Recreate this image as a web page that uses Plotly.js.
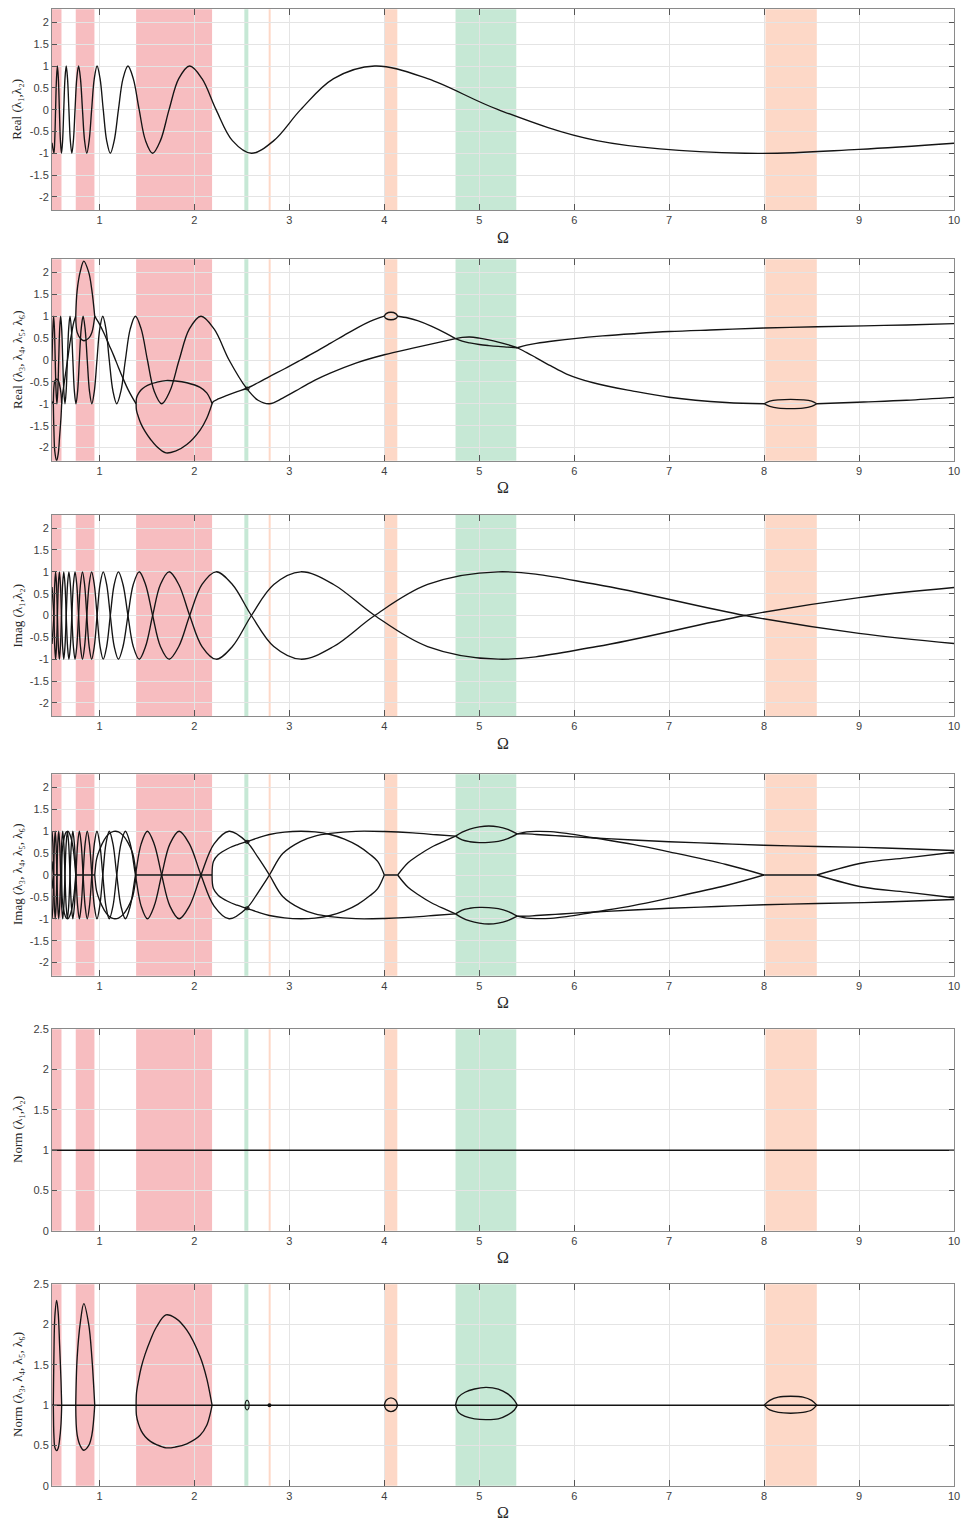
<!DOCTYPE html>
<html>
<head>
<meta charset="utf-8">
<script src="https://cdn.plot.ly/plotly-3.0.1.min.js"></script>
<style>
html,body{margin:0;padding:0;background:#fff;}
#chart{width:963px;height:1523px;}
</style>
</head>
<body>
<div id="chart"></div>
<script>
// ---------- λ1, λ2 (always on the unit circle) ----------
const omega12 = [0.5, 0.5199, 0.5287, 0.5378, 0.5473, 0.557, 0.5672, 0.5777, 0.5886, 0.5999, 0.6117, 0.6239, 0.6366, 0.6499, 0.6637, 0.6781, 0.6932, 0.709, 0.7254, 0.7427, 0.7608, 0.7799, 0.7998, 0.8209, 0.8431, 0.8665, 0.8913, 0.9175, 0.9453, 0.9748, 1.0063, 1.0398, 1.0756, 1.1141, 1.1553, 1.1998, 1.2478, 1.3, 1.356, 1.418, 1.485, 1.56, 1.642, 1.733, 1.835, 1.95, 2.08, 2.228, 2.4, 2.6, 2.836, 3.119, 3.466, 3.899, 4.456, 5.199, 6.239, 7.8, 9.0, 10];
const realL12 = [-0.76,
  -1, -0.71, 0, 0.71, 1, 0.71, 0, -0.71,
  -1, -0.71, 0, 0.71, 1, 0.71, 0, -0.71,
  -1, -0.71, 0, 0.71, 1, 0.71, 0, -0.71,
  -1, -0.71, 0, 0.71, 1, 0.71, 0, -0.71,
  -1, -0.71, 0, 0.71, 1, 0.71, 0, -0.71,
  -1, -0.71, 0, 0.71, 1, 0.71, 0, -0.71,
  -1, -0.71, 0, 0.71, 1, 0.71, 0, -0.71,
  -1, -0.91, -0.77];
const imagL1 = [-0.65,
  0, 0.71, 1, 0.71, 0, -0.71, -1, -0.71,
  0, 0.71, 1, 0.71, 0, -0.71, -1, -0.71,
  0, 0.71, 1, 0.71, 0, -0.71, -1, -0.71,
  0, 0.71, 1, 0.71, 0, -0.71, -1, -0.71,
  0, 0.71, 1, 0.71, 0, -0.71, -1, -0.71,
  0, 0.71, 1, 0.71, 0, -0.71, -1, -0.71,
  0, 0.71, 1, 0.71, 0, -0.71, -1, -0.71,
  0, 0.41, 0.64];
const imagL2 = [0.65,
  0, -0.71, -1, -0.71, 0, 0.71, 1, 0.71,
  0, -0.71, -1, -0.71, 0, 0.71, 1, 0.71,
  0, -0.71, -1, -0.71, 0, 0.71, 1, 0.71,
  0, -0.71, -1, -0.71, 0, 0.71, 1, 0.71,
  0, -0.71, -1, -0.71, 0, 0.71, 1, 0.71,
  0, -0.71, -1, -0.71, 0, 0.71, 1, 0.71,
  0, -0.71, -1, -0.71, 0, 0.71, 1, 0.71,
  0, -0.41, -0.64];
const omegaUnit = [0.5, 10];
const normUnit = [1, 1];

// ---------- λ3..λ6 : fast pair ----------
const omegaFast = [0.5, 0.5093, 0.5173, 0.5255, 0.5339, 0.5427, 0.5517, 0.5611, 0.5708, 0.5808, 0.5911, 0.6019, 0.613, 0.6246, 0.6366, 0.6491, 0.6621, 0.6756, 0.6897, 0.7043, 0.7197, 0.7356, 0.7524, 0.7699, 0.7882, 0.8074, 0.8276, 0.8488, 0.8712, 0.8947, 0.9196, 0.9458, 0.9736, 1.003, 1.035, 1.068, 1.103, 1.142, 1.182, 1.226, 1.273, 1.324, 1.379, 1.439, 1.505, 1.576, 1.655, 1.742, 1.839, 1.947, 2.069, 2.207, 2.365, 2.55, 2.67, 2.79, 2.93, 3.12, 3.27, 3.43, 3.7, 4.0, 4.3, 4.55, 4.75];
const realFast = [
  0, 0.71, 1, 0.71, 0, -0.71, -1, -0.71,
  0, 0.71, 1, 0.71, 0, -0.71, -1, -0.71,
  0, 0.71, 1, 0.71, 0, -0.71, -1, -0.71,
  0, 0.71, 1, 0.71, 0, -0.71, -1, -0.71,
  0, 0.71, 1, 0.71, 0, -0.71, -1, -0.71,
  0, 0.71, 1, 0.71, 0, -0.71, -1, -0.71,
  0, 0.71, 1, 0.71, 0,
  -0.65, -0.92, -1, -0.87, -0.64, -0.46, -0.3, -0.07, 0.12, 0.27, 0.39, 0.49];
const imagFastPos = [
  1, 0.71, 0, -0.71, -1, -0.71, 0, 0.71,
  1, 0.71, 0, -0.71, -1, -0.71, 0, 0.71,
  1, 0.71, 0, -0.71, -1, -0.71, 0, 0.71,
  1, 0.71, 0, -0.71, -1, -0.71, 0, 0.71,
  1, 0.71, 0, -0.71, -1, -0.71, 0, 0.71,
  1, 0.71, 0, -0.71, -1, -0.71, 0, 0.71,
  1, 0.71, 0, -0.71, -1,
  -0.76, -0.4, 0, 0.49, 0.77, 0.89, 0.95, 0.998, 0.993, 0.963, 0.92, 0.887];
const imagFastNeg = [
  -1, -0.71, 0, 0.71, 1, 0.71, 0, -0.71,
  -1, -0.71, 0, 0.71, 1, 0.71, 0, -0.71,
  -1, -0.71, 0, 0.71, 1, 0.71, 0, -0.71,
  -1, -0.71, 0, 0.71, 1, 0.71, 0, -0.71,
  -1, -0.71, 0, 0.71, 1, 0.71, 0, -0.71,
  -1, -0.71, 0, 0.71, 1, 0.71, 0, -0.71,
  -1, -0.71, 0, 0.71, 1,
  0.76, 0.4, 0, -0.49, -0.77, -0.89, -0.95, -0.998, -0.993, -0.963, -0.92, -0.887];

// complex quadruplet between 4.75 and 5.4
const omegaKrein = [4.75, 4.82, 4.9, 5.0, 5.1, 5.2, 5.3, 5.4];
const realKreinFast = [0.49, 0.43, 0.39, 0.355, 0.33, 0.31, 0.295, 0.28];
const realKreinSlow = [0.49, 0.515, 0.525, 0.5, 0.46, 0.41, 0.35, 0.28];
const imagKreinFastPos = [0.887, 0.8, 0.76, 0.74, 0.745, 0.77, 0.83, 0.94];
const imagKreinFastNeg = [-0.887, -0.8, -0.76, -0.74, -0.745, -0.77, -0.83, -0.94];
const imagKreinSlowPos = [0.887, 0.98, 1.05, 1.1, 1.12, 1.1, 1.04, 0.94];
const imagKreinSlowNeg = [-0.887, -0.98, -1.05, -1.1, -1.12, -1.1, -1.04, -0.94];
const omegaKreinNorm = [4.75, 4.78, 4.85, 4.95, 5.07, 5.2, 5.3, 5.37, 5.4];
const normKreinHi = [1, 1.1, 1.16, 1.2, 1.22, 1.2, 1.14, 1.06, 1];
const normKreinLo = [1, 0.91, 0.86, 0.83, 0.82, 0.83, 0.88, 0.94, 1];

const omegaTail = [5.4, 5.5, 5.6, 5.8, 6.0, 6.3, 6.62, 7.0, 7.5, 8.0, 8.56, 9.05, 9.5, 10];
const realTail = [0.28, 0.34, 0.38, 0.44, 0.49, 0.55, 0.6, 0.65, 0.69, 0.73, 0.76, 0.78, 0.8, 0.83];
const imagTailPos = [0.94, 0.94, 0.925, 0.9, 0.87, 0.835, 0.8, 0.76, 0.72, 0.68, 0.65, 0.63, 0.6, 0.56];
const imagTailNeg = [-0.94, -0.94, -0.925, -0.9, -0.87, -0.835, -0.8, -0.76, -0.72, -0.68, -0.65, -0.63, -0.6, -0.56];

// ---------- λ3..λ6 : slow pair, piece by piece ----------
const omegaSlowA = [0.5, 0.514];
const realSlowA = [-0.95, -1];
const imagSlowAPos = [0.31, 0];
const imagSlowANeg = [-0.31, 0];

const omegaLoop1 = [0.514, 0.517, 0.52, 0.53, 0.549, 0.565, 0.58, 0.595, 0.602];
const normLoop1Hi = [1, 1.35, 1.6, 2.1, 2.3, 2.15, 1.75, 1.3, 1];
const normLoop1Lo = [1, 0.74, 0.625, 0.476, 0.435, 0.465, 0.571, 0.77, 1];
const realLoop1Hi = [-1, -0.74, -0.625, -0.476, -0.435, -0.465, -0.571, -0.77, -1];
const realLoop1Lo = [-1, -1.35, -1.6, -2.1, -2.3, -2.15, -1.75, -1.3, -1];

const omegaSlowB = [0.602, 0.61, 0.63, 0.65, 0.67, 0.69, 0.71, 0.73, 0.75];
const realSlowB = [-1, -0.8, -0.5, -0.2, 0.1, 0.4, 0.65, 0.87, 1];
const imagSlowBPos = [0, 0.6, 0.87, 0.98, 0.995, 0.92, 0.76, 0.49, 0];
const imagSlowBNeg = [0, -0.6, -0.87, -0.98, -0.995, -0.92, -0.76, -0.49, 0];

const omegaLoop2 = [0.75, 0.765, 0.8, 0.835, 0.887, 0.92, 0.95];
const valueLoop2Hi = [1, 1.59, 2.04, 2.26, 2.0, 1.59, 1];
const valueLoop2Lo = [1, 0.63, 0.49, 0.44, 0.5, 0.63, 1];

const omegaSlowC = [0.95, 0.97, 1.0, 1.05, 1.1, 1.15, 1.2, 1.25, 1.3, 1.35, 1.386];
const realSlowC = [1, 0.93, 0.82, 0.6, 0.35, 0.1, -0.17, -0.43, -0.67, -0.87, -1];
const imagSlowCPos = [0, 0.37, 0.57, 0.8, 0.94, 0.995, 0.985, 0.9, 0.74, 0.49, 0];
const imagSlowCNeg = [0, -0.37, -0.57, -0.8, -0.94, -0.995, -0.985, -0.9, -0.74, -0.49, 0];

const omegaLoop3 = [1.386, 1.39, 1.41, 1.44, 1.48, 1.537, 1.6, 1.7, 1.8, 1.92, 2.06, 2.13, 2.17, 2.186];
const normLoop3Hi = [1, 1.15, 1.3, 1.47, 1.63, 1.81, 1.97, 2.12, 2.08, 1.93, 1.6, 1.33, 1.1, 1];
const normLoop3Lo = [1, 0.87, 0.77, 0.68, 0.61, 0.55, 0.51, 0.47, 0.48, 0.52, 0.625, 0.75, 0.91, 1];
const realLoop3Hi = [-1, -0.87, -0.77, -0.68, -0.61, -0.55, -0.51, -0.47, -0.48, -0.52, -0.625, -0.75, -0.91, -1];
const realLoop3Lo = [-1, -1.15, -1.3, -1.47, -1.63, -1.81, -1.97, -2.12, -2.08, -1.93, -1.6, -1.33, -1.1, -1];

const omegaSlowD = [2.186, 2.2, 2.25, 2.35, 2.45, 2.55, 2.67, 2.79, 2.95, 3.12, 3.27, 3.43, 3.58, 3.72, 3.85, 3.93, 4.0];
const realSlowD = [-1, -0.95, -0.89, -0.8, -0.72, -0.65, -0.52, -0.38, -0.2, 0.0, 0.18, 0.38, 0.57, 0.74, 0.88, 0.95, 1];
const imagSlowDPos = [0, 0.31, 0.46, 0.6, 0.69, 0.76, 0.85, 0.925, 0.98, 1.0, 0.984, 0.925, 0.82, 0.67, 0.47, 0.31, 0];
const imagSlowDNeg = [0, -0.31, -0.46, -0.6, -0.69, -0.76, -0.85, -0.925, -0.98, -1.0, -0.984, -0.925, -0.82, -0.67, -0.47, -0.31, 0];

const omegaBubble4 = [4.0, 4.02, 4.07, 4.12, 4.14];
const valueBubble4Hi = [1, 1.06, 1.09, 1.06, 1];
const valueBubble4Lo = [1, 0.945, 0.92, 0.945, 1];

const omegaSlowE = [4.14, 4.25, 4.35, 4.5, 4.65, 4.75];
const realSlowE = [1, 0.96, 0.9, 0.77, 0.61, 0.49];
const imagSlowEPos = [0, 0.28, 0.44, 0.64, 0.79, 0.887];
const imagSlowENeg = [0, -0.28, -0.44, -0.64, -0.79, -0.887];

const omegaSlowF = [5.4, 5.5, 5.6, 5.75, 5.92, 6.2, 6.62, 7.0, 7.6, 8.0];
const realSlowF = [0.28, 0.17, 0.05, -0.13, -0.32, -0.52, -0.71, -0.85, -0.97, -1];
const imagSlowFPos = [0.94, 0.985, 0.997, 0.99, 0.95, 0.85, 0.7, 0.53, 0.24, 0];
const imagSlowFNeg = [-0.94, -0.985, -0.997, -0.99, -0.95, -0.85, -0.7, -0.53, -0.24, 0];

const omegaBubble8 = [8.0, 8.06, 8.15, 8.28, 8.41, 8.5, 8.555];
const realBubble8Hi = [-1, -0.94, -0.91, -0.9, -0.91, -0.94, -1];
const realBubble8Lo = [-1, -1.06, -1.1, -1.11, -1.1, -1.06, -1];
const normBubble8Hi = [1, 1.06, 1.1, 1.11, 1.1, 1.06, 1];
const normBubble8Lo = [1, 0.94, 0.91, 0.9, 0.91, 0.94, 1];

const omegaSlowG = [8.555, 9.05, 9.5, 10];
const realSlowG = [-1, -0.96, -0.92, -0.855];
const imagSlowGPos = [0, 0.28, 0.39, 0.52];
const imagSlowGNeg = [0, -0.28, -0.39, -0.52];

// stretches where the slow pair sits on the real axis
const omegaRealStart = [0.514, 0.75, 1.386, 4.0, 8.0];
const omegaRealEnd = [0.602, 0.95, 2.186, 4.14, 8.555];

// small collision near 2.55 and touch near 2.79
const omegaMini = [2.534, 2.541, 2.555, 2.569, 2.576, 2.569, 2.555, 2.541, 2.534];
const realMini = [-0.65, -0.63, -0.62, -0.63, -0.65, -0.67, -0.68, -0.67, -0.65];
const imagMiniPos = [0.76, 0.785, 0.795, 0.785, 0.76, 0.735, 0.725, 0.735, 0.76];
const imagMiniNeg = [-0.76, -0.785, -0.795, -0.785, -0.76, -0.735, -0.725, -0.735, -0.76];
const normMini = [1, 1.045, 1.06, 1.045, 1, 0.955, 0.94, 0.955, 1];
const omegaDot = [2.79];
const normDot = [1];

// ---------- shaded stability regions ----------
const bandStart = [0.5, 0.75, 1.386, 2.526, 2.782, 4.0, 4.75, 8.014];
const bandEnd = [0.6, 0.947, 2.186, 2.568, 2.803, 4.137, 5.39, 8.555];
const bandKind = ['red', 'red', 'red', 'green', 'orange', 'orange', 'green', 'orange'];
const bandColor = {red: '#f7bdc0', green: '#c6e8d5', orange: '#fdd8c7'};

// ---------- axis text ----------
const xTickVals = [1, 2, 3, 4, 5, 6, 7, 8, 9, 10];
const yTickValsWide = [-2, -1.5, -1, -0.5, 0, 0.5, 1, 1.5, 2];
const yTickTextWide = ['-2', '-1.5', '-1', '-0.5', '0', '0.5', '1', '1.5', '2'];
const yTickValsNorm = [0, 0.5, 1, 1.5, 2, 2.5];
const yTickTextNorm = ['0', '0.5', '1', '1.5', '2', '2.5'];
const yTitles = [
  'Real (λ₁,λ₂)',
  'Real (λ₃, λ₄, λ₅, λ₆)',
  'Imag (λ₁,λ₂)',
  'Imag (λ₃, λ₄, λ₅, λ₆)',
  'Norm (λ₁,λ₂)',
  'Norm (λ₃, λ₄, λ₅, λ₆)'
];
const xTitle = 'Ω';

// ---------- page geometry (pixels) ----------
const W = 963, H = 1523;
const M = {l: 52, r: 9, t: 9, b: 37};
const panelTop = [9.3, 259.3, 515, 774.3, 1029.3, 1284.3];
const panelBottom = [210, 460.7, 716, 975.7, 1230.7, 1485.7];
const plotH = H - M.t - M.b;
const py = Y => (H - M.b - Y) / plotH;
const px = X => (X - M.l) / (W - M.l - M.r);

// join pieces into one path broken by gaps
function path(parts) {
  const x = [], y = [];
  parts.forEach((p, i) => {
    if (i) { x.push(null); y.push(null); }
    x.push(...p[0]); y.push(...p[1]);
  });
  return {x, y};
}
function curve(xy, panel, extra) {
  const id = panel === 1 ? '' : String(panel);
  return Object.assign({
    type: 'scatter', mode: 'lines', x: xy.x, y: xy.y,
    xaxis: 'x' + id, yaxis: 'y' + id,
    line: {color: '#141414', width: 1.35, shape: 'spline', smoothing: 1},
    connectgaps: false, hoverinfo: 'skip', showlegend: false
  }, extra || {});
}
const flatParts = (vals) => omegaRealStart.map((s, i) => [[s, omegaRealEnd[i]], [vals, vals]]);
const thin = {line: {color: '#141414', width: 1.1, shape: 'spline'}};
const straight = {line: {color: '#141414', width: 1.5, shape: 'linear'}};

const traces = [];
// panel 1
traces.push(curve({x: omega12, y: realL12}, 1));
// panel 2
traces.push(curve(path([[omegaFast, realFast], [omegaKrein, realKreinFast], [omegaTail, realTail]]), 2));
traces.push(curve(path([
  [omegaSlowA, realSlowA], [omegaLoop1, realLoop1Hi], [omegaSlowB, realSlowB],
  [omegaLoop2, valueLoop2Hi], [omegaSlowC, realSlowC], [omegaLoop3, realLoop3Hi],
  [omegaSlowD, realSlowD], [omegaBubble4, valueBubble4Hi], [omegaSlowE, realSlowE],
  [omegaKrein, realKreinSlow], [omegaSlowF, realSlowF], [omegaBubble8, realBubble8Hi],
  [omegaSlowG, realSlowG]]), 2));
traces.push(curve(path([
  [omegaLoop1, realLoop1Lo], [omegaLoop2, valueLoop2Lo], [omegaLoop3, realLoop3Lo],
  [omegaBubble4, valueBubble4Lo], [omegaBubble8, realBubble8Lo]]), 2));
traces.push(curve({x: omegaMini, y: realMini}, 2, thin));
// panel 3
traces.push(curve({x: omega12, y: imagL1}, 3));
traces.push(curve({x: omega12, y: imagL2}, 3));
// panel 4
traces.push(curve(path([[omegaFast, imagFastPos], [omegaKrein, imagKreinFastPos], [omegaTail, imagTailPos]]), 4));
traces.push(curve(path([[omegaFast, imagFastNeg], [omegaKrein, imagKreinFastNeg], [omegaTail, imagTailNeg]]), 4));
traces.push(curve(path([
  [omegaSlowA, imagSlowAPos], [omegaSlowB, imagSlowBPos], [omegaSlowC, imagSlowCPos],
  [omegaSlowD, imagSlowDPos], [omegaSlowE, imagSlowEPos], [omegaKrein, imagKreinSlowPos],
  [omegaSlowF, imagSlowFPos], [omegaSlowG, imagSlowGPos]]), 4));
traces.push(curve(path([
  [omegaSlowA, imagSlowANeg], [omegaSlowB, imagSlowBNeg], [omegaSlowC, imagSlowCNeg],
  [omegaSlowD, imagSlowDNeg], [omegaSlowE, imagSlowENeg], [omegaKrein, imagKreinSlowNeg],
  [omegaSlowF, imagSlowFNeg], [omegaSlowG, imagSlowGNeg]]), 4));
traces.push(curve(path(flatParts(0)), 4, {line: {color: '#141414', width: 1.35, shape: 'linear'}}));
traces.push(curve({x: omegaMini, y: imagMiniPos}, 4, thin));
traces.push(curve({x: omegaMini, y: imagMiniNeg}, 4, thin));
// panel 5
traces.push(curve({x: omegaUnit, y: normUnit}, 5, straight));
// panel 6
traces.push(curve({x: omegaUnit, y: normUnit}, 6, straight));
traces.push(curve(path([
  [omegaLoop1, normLoop1Hi], [omegaLoop2, valueLoop2Hi], [omegaLoop3, normLoop3Hi],
  [omegaBubble4, valueBubble4Hi], [omegaKreinNorm, normKreinHi], [omegaBubble8, normBubble8Hi]]), 6));
traces.push(curve(path([
  [omegaLoop1, normLoop1Lo], [omegaLoop2, valueLoop2Lo], [omegaLoop3, normLoop3Lo],
  [omegaBubble4, valueBubble4Lo], [omegaKreinNorm, normKreinLo], [omegaBubble8, normBubble8Lo]]), 6));
traces.push(curve({x: omegaMini, y: normMini}, 6, thin));
traces.push(curve({x: omegaDot, y: normDot}, 6, {mode: 'markers', marker: {color: '#141414', size: 4}}));

// ---------- layout ----------
const tickFont = {family: 'Liberation Sans, Arial, sans-serif', size: 11, color: '#404040'};
const titleFont = {family: 'Liberation Serif, DejaVu Serif, serif', size: 13, color: '#262626'};
const layout = {
  width: W, height: H, margin: M,
  paper_bgcolor: '#ffffff', plot_bgcolor: '#ffffff',
  showlegend: false, shapes: [], annotations: []
};
for (let i = 1; i <= 6; i++) {
  const id = i === 1 ? '' : String(i);
  const dom = [py(panelBottom[i - 1]), py(panelTop[i - 1])];
  const isNorm = i >= 5;
  layout['xaxis' + id] = {
    domain: [0, 1], anchor: 'y' + id, range: [0.5, 10],
    tickmode: 'array', tickvals: xTickVals, ticks: 'inside', ticklen: 6, tickwidth: 1,
    tickcolor: '#555', showline: true, linecolor: '#8a8a8a', linewidth: 1, mirror: 'ticks',
    showgrid: true, gridcolor: '#e4e4e4', gridwidth: 1, zeroline: false,
    tickfont: tickFont, fixedrange: true
  };
  layout['yaxis' + id] = {
    domain: dom, anchor: 'x' + id,
    range: isNorm ? [0, 2.5] : [-2.3, 2.3],
    tickmode: 'array',
    tickvals: isNorm ? yTickValsNorm : yTickValsWide,
    ticktext: isNorm ? yTickTextNorm : yTickTextWide,
    ticks: 'inside', ticklen: 5, tickwidth: 1, tickcolor: '#555',
    showline: true, linecolor: '#8a8a8a', linewidth: 1, mirror: 'ticks',
    showgrid: true, gridcolor: '#e4e4e4', gridwidth: 1, zeroline: false,
    tickfont: tickFont, fixedrange: true
  };
  bandStart.forEach((s, b) => {
    layout.shapes.push({
      type: 'rect', xref: 'x' + id, yref: 'y' + id + ' domain',
      x0: s, x1: bandEnd[b], y0: 0, y1: 1,
      fillcolor: bandColor[bandKind[b]], line: {width: 0}, layer: 'below'
    });
  });
  layout.annotations.push({
    text: yTitles[i - 1], xref: 'paper', yref: 'paper',
    x: px(17), y: (dom[0] + dom[1]) / 2, xanchor: 'center', yanchor: 'middle',
    textangle: -90, showarrow: false, font: titleFont
  });
  layout.annotations.push({
    text: xTitle, xref: 'paper', yref: 'paper',
    x: 0.5, y: py(panelBottom[i - 1] + 27), xanchor: 'center', yanchor: 'middle',
    showarrow: false,
    font: {family: 'Liberation Serif, DejaVu Serif, serif', size: 16, color: '#262626'}
  });
}

Plotly.newPlot('chart', traces, layout, {displayModeBar: false, staticPlot: true});
</script>
</body>
</html>
